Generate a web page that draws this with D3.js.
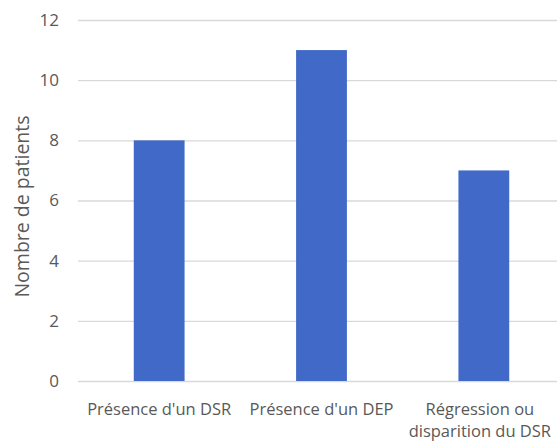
<!DOCTYPE html>
<html lang="fr">
<head>
<meta charset="utf-8">
<title>Nombre de patients</title>
<style>
  body { margin: 0; background: #fff; }
  text { font-family: "Open Sans", sans-serif; fill: #595959; }
</style>
</head>
<body>
<script src="https://d3js.org/d3.v7.min.js"></script>
<script>
var categories = [["Présence d'un DSR"], ["Présence d'un DEP"], ["Régression ou", "disparition du DSR"]];
var values = [8, 11, 7];
var yTicks = [0, 2, 4, 6, 8, 10, 12];

var W = 557, H = 441;
var margin = {top: 20, right: -8, bottom: 60, left: 78};
var width = W - margin.left - margin.right,
    height = H - margin.top - margin.bottom;

var svg = d3.select("body").append("svg")
    .attr("width", W)
    .attr("height", H);

var g = svg.append("g")
    .attr("transform", "translate(" + margin.left + "," + margin.top + ")");

var y = d3.scaleLinear().domain([0, 12]).range([height, 0]);
var x = d3.scaleBand().domain(d3.range(values.length)).range([0, width]).paddingInner(0.687).paddingOuter(0.3435);

// gridlines + labels
var yAxis = d3.axisLeft(y).tickValues(yTicks).tickSize(-width).tickPadding(19);
var yg = g.append("g").call(yAxis);
yg.select(".domain").remove();
yg.selectAll("line").attr("stroke", "#d9d9d9").attr("stroke-width", 1.3);
yg.selectAll("text").style("font-size", "17px").attr("fill", "#595959");

g.selectAll(".bar")
    .data(values)
    .enter().append("rect")
    .attr("class", "bar")
    .attr("x", function(d, i) { return x(i); })
    .attr("y", function(d) { return y(d); })
    .attr("width", x.bandwidth())
    .attr("height", function(d) { return height - y(d); })
    .attr("fill", "#4169c8");

// category labels
var lab = g.selectAll(".cat")
    .data(categories)
    .enter().append("text")
    .attr("class", "cat")
    .attr("text-anchor", "middle")
    .attr("transform", function(d, i) { return "translate(" + (x(i) + x.bandwidth() / 2 - (i == 2 ? 4 : 0)) + "," + (height + 34) + ")"; })
    .style("font-size", "16.5px");
lab.selectAll("tspan")
    .data(function(d) { return d; })
    .enter().append("tspan")
    .attr("x", 0)
    .attr("dy", function(d, i) { return i ? 22 : 0; })
    .text(function(d) { return d; });

svg.append("text")
    .attr("transform", "translate(29," + (margin.top + height / 2 + 6) + ") rotate(-90)")
    .attr("text-anchor", "middle")
    .style("font-size", "19.5px")
    .text("Nombre de patients");
</script>
</body>
</html>
